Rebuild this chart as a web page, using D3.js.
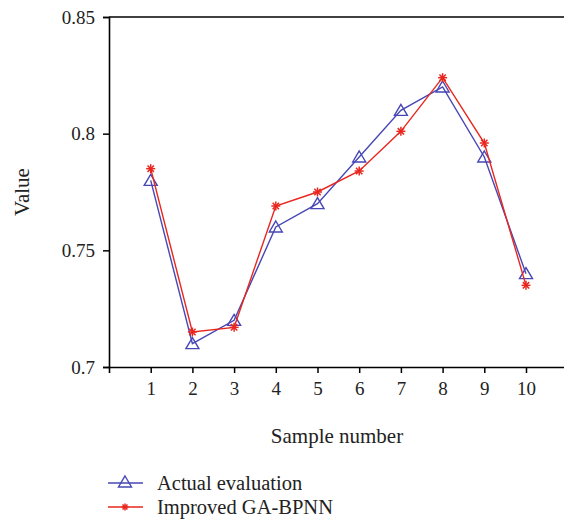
<!DOCTYPE html>
<html>
<head>
<meta charset="utf-8">
<script src="https://cdn.jsdelivr.net/npm/d3@7"></script>
<style>
  body { margin: 0; background: #fff; }
  svg text { font-family: "Liberation Serif", "DejaVu Serif", serif; fill: #222; }
</style>
</head>
<body>
<svg id="chart" width="564" height="520"></svg>
<script>
const samples = [1, 2, 3, 4, 5, 6, 7, 8, 9, 10];
const actual = [0.78, 0.71, 0.72, 0.76, 0.77, 0.79, 0.81, 0.82, 0.79, 0.74];
const improved = [0.785, 0.715, 0.717, 0.769, 0.775, 0.784, 0.801, 0.824, 0.796, 0.735];
const yTicks = [0.7, 0.75, 0.8, 0.85];
const seriesNames = ['Actual evaluation', 'Improved GA-BPNN'];

const blue = '#4747b5', red = '#e8261e';

const svg = d3.select('#chart');
const plotLeft = 109, plotTop = 17, plotBottom = 367;

const x = d3.scaleLinear().domain([0, 11]).range([plotLeft, plotLeft + 11 * 41.7]);
const y = d3.scaleLinear().domain([0.7, 0.85]).range([plotBottom, plotTop]);

// axes: left and bottom, plus the top frame line
svg.append('g')
  .attr('transform', `translate(0,${plotBottom})`)
  .call(d3.axisBottom(x).tickValues(samples).tickFormat(d3.format('d')).tickSize(6).tickPadding(9))
  .call(g => g.select('.domain').attr('stroke-width', 1.6))
  .call(g => g.selectAll('.tick line').attr('stroke-width', 1.5))
  .call(g => g.selectAll('text').attr('font-size', 19));

svg.append('g')
  .attr('transform', `translate(${plotLeft},0)`)
  .call(d3.axisLeft(y).tickValues(yTicks).tickFormat(d => String(+d.toFixed(2))).tickSize(6).tickPadding(8))
  .call(g => g.select('.domain').attr('stroke-width', 1.6))
  .call(g => g.selectAll('.tick line').attr('stroke-width', 1.5))
  .call(g => g.selectAll('text').attr('font-size', 19));

svg.append('line')
  .attr('x1', plotLeft).attr('x2', 564)
  .attr('y1', plotTop).attr('y2', plotTop)
  .attr('stroke', '#000').attr('stroke-width', 1.6);

// axis titles
svg.append('text')
  .attr('x', 337).attr('y', 443)
  .attr('text-anchor', 'middle').attr('font-size', 21)
  .text('Sample number');

svg.append('text')
  .attr('transform', `translate(29,${(plotTop + plotBottom) / 2}) rotate(-90)`)
  .attr('text-anchor', 'middle').attr('font-size', 21)
  .text('Value');

const line = d3.line().x((d, i) => x(samples[i])).y(d => y(d));

function triangle(g, cx, cy) {
  g.append('path')
    .attr('d', `M${cx},${cy - 6} L${cx + 6.5},${cy + 5} L${cx - 6.5},${cy + 5} Z`)
    .attr('fill', 'none').attr('stroke', blue).attr('stroke-width', 1.4);
}

function star(g, cx, cy, r) {
  const s = g.append('g').attr('stroke', red).attr('stroke-width', 1.5);
  [0, 45, 90, 135].forEach(a => {
    const rad = a * Math.PI / 180;
    s.append('line')
      .attr('x1', cx - r * Math.cos(rad)).attr('y1', cy - r * Math.sin(rad))
      .attr('x2', cx + r * Math.cos(rad)).attr('y2', cy + r * Math.sin(rad));
  });
}

const plot = svg.append('g');

plot.append('path').datum(actual)
  .attr('d', line).attr('fill', 'none')
  .attr('stroke', blue).attr('stroke-width', 1.4);
actual.forEach((d, i) => triangle(plot, x(samples[i]), y(d)));

plot.append('path').datum(improved)
  .attr('d', line).attr('fill', 'none')
  .attr('stroke', red).attr('stroke-width', 1.4);
improved.forEach((d, i) => star(plot, x(samples[i]), y(d), 4.5));

// legend
const legend = svg.append('g');
seriesNames.forEach((name, i) => {
  const ly = 483 + i * 24;
  legend.append('line')
    .attr('x1', 108).attr('x2', 143).attr('y1', ly).attr('y2', ly)
    .attr('stroke', i === 0 ? blue : red).attr('stroke-width', 1.4);
  if (i === 0) triangle(legend, 125, ly - 1);
  else star(legend, 125, ly, 3.5);
  legend.append('text')
    .attr('x', 157).attr('y', ly + 7)
    .attr('font-size', 20.5)
    .text(name);
});
</script>
</body>
</html>
